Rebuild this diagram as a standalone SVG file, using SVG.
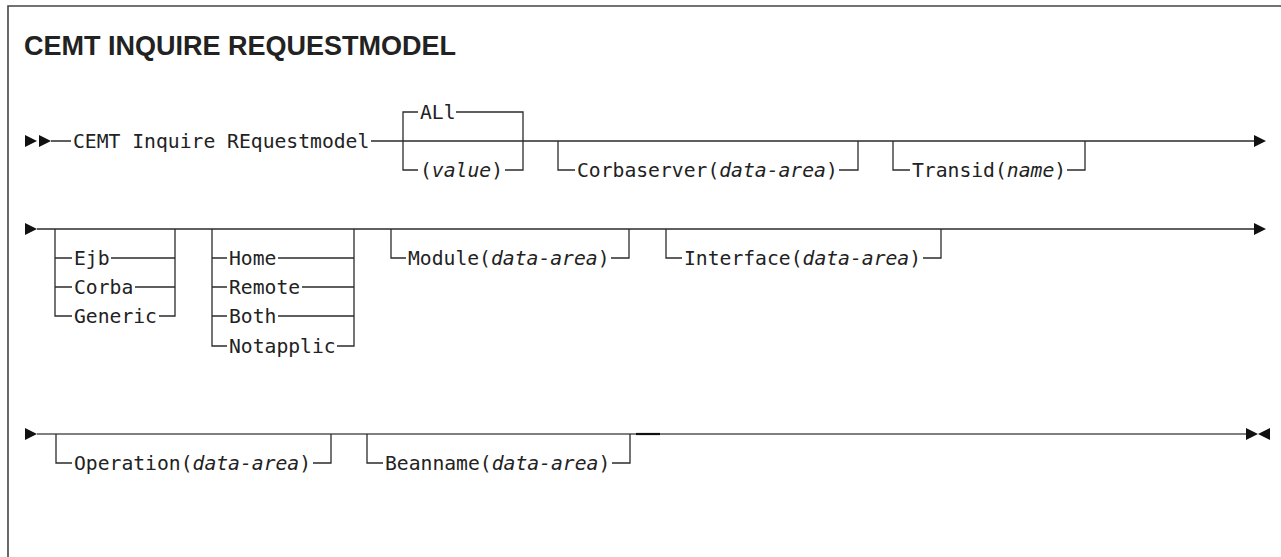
<svg xmlns="http://www.w3.org/2000/svg" width="1281" height="557" viewBox="0 0 1281 557">
<style>
  .t { font-family: "DejaVu Sans Mono", "Liberation Mono", monospace; font-size: 19.7px; fill: #222; }
  .i { font-style: italic; }
  .title { font-family: "Liberation Sans", Arial, sans-serif; font-weight: bold; font-size: 27px; fill: #222; }
  .ln { fill: none; stroke: #2b2b2b; stroke-width: 1.3; }
  .ln3 { fill: none; stroke: #555; stroke-width: 1.6; }
  .dk { fill: none; stroke: #111; stroke-width: 2.2; }
  .frame { fill: none; stroke: #444; stroke-width: 1.6; }
  .ah { fill: #111; }
</style>
<defs>
  <path id="arrR" d="M-12,-6 L0,0 L-12,6 Z"/>
  <path id="arrL" d="M12,-6 L0,0 L12,6 Z"/>
</defs>
<rect width="1281" height="557" fill="#fff"/>
<path class="frame" d="M8,557 V6 H1281"/>
<g id="title"><text class="title" x="24" y="55">CEMT INQUIRE REQUESTMODEL</text></g>

<g id="connectors">
  <!-- row 1 -->
  <path class="ln" d="M51,141 H71 M371,141 H1254"/>
  <path class="ln" d="M403,141 V112 H418 M456,112 H523 V141"/>
  <path class="ln" d="M403,141 V170 H418 M505,170 H523 V141"/>
  <path class="ln" d="M558,141 V170 H575 M839,170 H858 V141"/>
  <path class="ln" d="M893,141 V170 H910 M1067,170 H1085 V141"/>
  <use href="#arrR" class="ah" x="37" y="141"/>
  <use href="#arrR" class="ah" x="51" y="141"/>
  <use href="#arrR" class="ah" x="1266" y="141"/>
  <!-- row 2 -->
  <path class="ln" d="M37,229 H1254"/>
  <path class="ln" d="M55,229 V316 H72 M55,258 H72 M55,287 H72"/>
  <path class="ln" d="M111,258 H175 M135,287 H175 M159,316 H175 V229"/>
  <path class="ln" d="M212,229 V346 H227 M212,258 H227 M212,287 H227 M212,316 H227"/>
  <path class="ln" d="M278,258 H354 M302,287 H354 M278,316 H354 M337,346 H354 V229"/>
  <path class="ln" d="M391,229 V258 H406 M611,258 H629 V229"/>
  <path class="ln" d="M666,229 V258 H682 M923,258 H941 V229"/>
  <use href="#arrR" class="ah" x="37" y="229"/>
  <use href="#arrR" class="ah" x="1266" y="229"/>
  <!-- row 3 -->
  <path class="ln3" d="M37,434 H1248"/>
  <path class="ln" d="M56,434 V463 H72 M313,463 H331 V434"/>
  <path class="ln" d="M367,434 V463 H383 M612,463 H630 V434"/>
  <path class="dk" d="M636,434 H660"/>
  <use href="#arrR" class="ah" x="37" y="434"/>
  <use href="#arrR" class="ah" x="1258" y="434"/>
  <use href="#arrL" class="ah" x="1258" y="434"/>
</g>

<g id="n-cemt"><text class="t" x="73" y="148">CEMT Inquire REquestmodel</text></g>
<g id="n-all"><text class="t" x="420" y="119">ALl</text></g>
<g id="n-value"><text class="t" x="420" y="177">(<tspan class="i">value</tspan>)</text></g>
<g id="n-corbaserver"><text class="t" x="577" y="177">Corbaserver(<tspan class="i">data-area</tspan>)</text></g>
<g id="n-transid"><text class="t" x="912" y="177">Transid(<tspan class="i">name</tspan>)</text></g>

<g id="n-ejb"><text class="t" x="74" y="265">Ejb</text></g>
<g id="n-corba"><text class="t" x="74" y="294">Corba</text></g>
<g id="n-generic"><text class="t" x="74" y="323">Generic</text></g>
<g id="n-home"><text class="t" x="229" y="265">Home</text></g>
<g id="n-remote"><text class="t" x="229" y="294">Remote</text></g>
<g id="n-both"><text class="t" x="229" y="323">Both</text></g>
<g id="n-notapplic"><text class="t" x="229" y="353">Notapplic</text></g>
<g id="n-module"><text class="t" x="408" y="265">Module(<tspan class="i">data-area</tspan>)</text></g>
<g id="n-interface"><text class="t" x="684" y="265">Interface(<tspan class="i">data-area</tspan>)</text></g>

<g id="n-operation"><text class="t" x="74" y="470">Operation(<tspan class="i">data-area</tspan>)</text></g>
<g id="n-beanname"><text class="t" x="385" y="470">Beanname(<tspan class="i">data-area</tspan>)</text></g>
</svg>
